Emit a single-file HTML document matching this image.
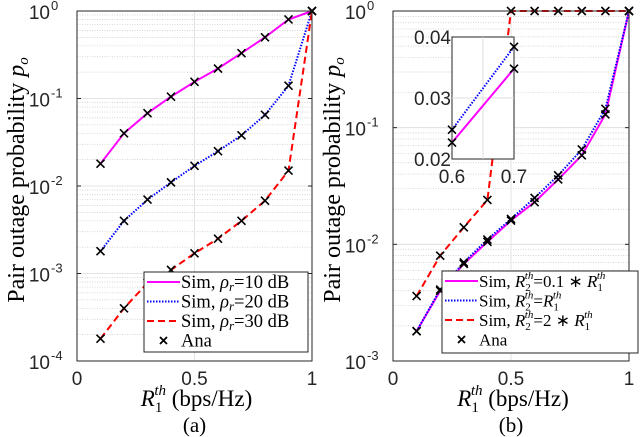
<!DOCTYPE html>
<html><head><meta charset="utf-8"><style>
body{margin:0;background:#fff}
svg{display:block}
.s,.s tspan{font-family:"Liberation Serif",serif !important}
</style></head><body>
<svg id="c" width="640" height="437" viewBox="0 0 640 437" xmlns="http://www.w3.org/2000/svg" font-family="Liberation Sans, sans-serif"></svg>
<script>
const xCats=[0.1,0.2,0.3,0.4,0.5,0.6,0.7,0.8,0.9,1.0];
const aMag=[0.018,0.04,0.068,0.105,0.155,0.22,0.33,0.5,0.8,1];
const aBlue=[0.0018,0.004,0.007,0.011,0.017,0.025,0.038,0.065,0.14,1];
const aRed=[0.00018,0.0004,0.00078,0.0011,0.0017,0.0025,0.004,0.0068,0.015,1];
const bMag=[0.0018,0.004,0.0068,0.0105,0.016,0.023,0.036,0.058,0.13,1];
const bBlue=[0.0018,0.0041,0.007,0.011,0.0165,0.025,0.039,0.065,0.145,1];
const bRed=[0.0036,0.008,0.014,0.024,1,1,1,1,1,1];
const insetX=[0.6,0.7];
const insetMag=[0.0227,0.0348];
const insetBlue=[0.0248,0.0384];
const aYExp=["0","-1","-2","-3","-4"];
const bYExp=["0","-1","-2","-3"];
const xTicks=["0","0.5","1"];

const svg=document.getElementById('c');
const NS="http://www.w3.org/2000/svg";
const SERIF="font-family:'Liberation Serif',serif";
function el(t,a,p){const e=document.createElementNS(NS,t);for(const k in a)e.setAttribute(k,a[k]);(p||svg).appendChild(e);return e;}

function panel(o){
  const g=el('g',{});
  
  
  const X=v=>o.x0+(o.x1-o.x0)*v;
  const Y=v=>o.yTop+(Math.log10(o.top)-Math.log10(v))*(o.yBot-o.yTop)/o.dec;
  for(let d=0;d<o.dec;d++){for(let m=2;m<=9;m++){const v=o.top/Math.pow(10,d+1)*m;const y=Y(v);
    el('line',{x1:o.x0,x2:o.x1,y1:y,y2:y,stroke:'#c8c8c8','stroke-width':0.7,'stroke-dasharray':'1,1.5'},g);}}
  for(let d=0;d<=o.dec;d++){const y=Y(o.top/Math.pow(10,d));
    el('line',{x1:o.x0,x2:o.x1,y1:y,y2:y,stroke:'#dcdcdc','stroke-width':0.8},g);}
  [0.5].forEach(v=>el('line',{x1:X(v),x2:X(v),y1:o.yTop,y2:o.yBot,stroke:'#dcdcdc','stroke-width':0.8},g));
  const mk=(arr,col,dash,w,nm,xs,XF,YF)=>{let d='';arr.forEach((v,i)=>{d+=(i?'L':'M')+XF(xs[i]).toFixed(1)+','+YF(v).toFixed(1);});
    const p=el('path',{d:d,fill:'none',stroke:col,'stroke-width':w,'stroke-dasharray':dash},g);
    
    };
  o.series.forEach(s=>mk(s.v,s.c,s.d,s.w,s.n,xCats,X,Y));
  o.series.forEach(s=>s.v.forEach((v,i)=>{const x=X(xCats[i]),y=Y(v);
    const m=el('path',{d:`M${x-4},${y-4}L${x+4},${y+4}M${x-4},${y+4}L${x+4},${y-4}`,stroke:'#000','stroke-width':1.6},g);
    
    }));
  el('rect',{x:o.x0,y:o.yTop,width:o.x1-o.x0,height:o.yBot-o.yTop,fill:'none',stroke:'#262626','stroke-width':1},g);
  for(let d=0;d<=o.dec;d++){const y=Y(o.top/Math.pow(10,d));
    el('line',{x1:o.x0,x2:o.x0+4,y1:y,y2:y,stroke:'#262626'},g);el('line',{x1:o.x1,x2:o.x1-4,y1:y,y2:y,stroke:'#262626'},g);
    const t=el('text',{x:o.x0-27,y:y+8,'font-size':19,'text-anchor':'end',fill:'#262626'},g);t.textContent='10';
    const e=el('text',{x:o.x0-26,y:y-1,'font-size':13,fill:'#262626'},g);e.textContent=o.exps[d];}
  xTicks.forEach(t=>{const x=X(+t);const tx=el('text',{x:x,y:o.yBot+24,'font-size':19,'text-anchor':'middle',fill:'#262626'},g);tx.textContent=t;});
  const yl=el('text',{x:0,y:0,'font-size':24,'text-anchor':'middle',class:'s',style:SERIF,transform:`translate(${o.x0-53},${(o.yTop+o.yBot)/2-6}) rotate(-90)`},g);
  
  yl.innerHTML='Pair outage probability <tspan font-style="italic">p</tspan><tspan font-size="15" dy="4" font-style="italic">o</tspan>';
  const xl=el('text',{x:(o.x0+o.x1)/2+2,y:o.yBot+45,'font-size':23,'text-anchor':'middle',class:'s',style:SERIF},g);
  
  xl.innerHTML='<tspan font-style="italic">R</tspan><tspan font-size="15" dy="6">1</tspan><tspan font-size="15" dx="-8" dy="-17" font-style="italic">th</tspan><tspan dy="11">  (bps/Hz)</tspan>';
  const cap=el('text',{x:(o.x0+o.x1)/2,y:432,'font-size':21,'text-anchor':'middle',class:'s',style:SERIF},g);cap.textContent=o.cap;
  
  const L=o.leg;const lg=el('g',{},g);
  
  el('rect',{x:L.x,y:L.y,width:L.w,height:L.h,fill:'#fff',stroke:'#262626'},lg);
  L.items.forEach((it,i)=>{const y=L.y+10+i*19.5;
    if(it.c) el('line',{x1:L.x+3,x2:L.x+36,y1:y,y2:y,stroke:it.c,'stroke-width':it.w,'stroke-dasharray':it.d},lg);
    else el('path',{d:`M${L.x+16},${y-3.5}L${L.x+23},${y+3.5}M${L.x+16},${y+3.5}L${L.x+23},${y-3.5}`,stroke:'#000','stroke-width':1.8},lg);
    const t=el('text',{x:L.x+37,y:y+6,'font-size':L.fs,class:'s',style:SERIF},lg);t.innerHTML=it.t;
    });
  return {X,Y,g};
}
const rho=v=>`Sim, <tspan font-style="italic">ρ</tspan><tspan font-size="13" dy="3" font-style="italic">r</tspan><tspan dy="-3">=${v} dB</tspan>`;
const R2=r=>`Sim, <tspan font-style="italic">R</tspan><tspan font-size="11" dy="4">2</tspan><tspan font-size="11" dx="-6" dy="-12" font-style="italic">th</tspan><tspan dy="8">=${r}</tspan><tspan font-style="italic">R</tspan><tspan font-size="11" dy="4">1</tspan><tspan font-size="11" dx="-6" dy="-12" font-style="italic">th</tspan>`;
panel({name:'panel-a',x0:77,x1:312,yTop:11,yBot:361,dec:4,top:1,exps:aYExp,cap:'(a)',
  series:[{v:aMag,c:'#ff00ff',d:'none',w:2,n:'line-10db'},{v:aBlue,c:'#0000ff',d:'1.5,1.5',w:2,n:'line-20db'},{v:aRed,c:'#ff0000',d:'7,4',w:2,n:'line-30db'}],
  leg:{x:144,y:272,w:164,h:80,fs:18.5,items:[{c:'#ff00ff',d:'none',w:2,t:rho(10)},{c:'#0000ff',d:'1.5,1.5',w:2,t:rho(20)},{c:'#ff0000',d:'7,4',w:2,t:rho(30)},{t:'Ana'}]}});
const pb=panel({name:'panel-b',x0:393,x1:629,yTop:11,yBot:361,dec:3,top:1,exps:bYExp,cap:'(b)',
  series:[{v:bMag,c:'#ff00ff',d:'none',w:2,n:'line-r2-0.1'},{v:bBlue,c:'#0000ff',d:'1.5,1.5',w:2,n:'line-r2-eq'},{v:bRed,c:'#ff0000',d:'7,4',w:2,n:'line-r2-2x'}],
  leg:{x:442,y:271,w:196,h:82,fs:17,items:[{c:'#ff00ff',d:'none',w:2,t:R2('0.1 ∗ ')},{c:'#0000ff',d:'1.5,1.5',w:2,t:R2('')},{c:'#ff0000',d:'7,4',w:2,t:R2('2 ∗ ')},{t:'Ana'}]}});
(function(){
  const ig=el('g',{});
  const x0=452,x1=514,y0=37,y1=159;
  const X=v=>x0+(v-0.6)/0.1*(x1-x0), Y=v=>y1-(v-0.02)/0.02*(y1-y0);
  el('rect',{x:x0,y:y0,width:x1-x0,height:y1-y0,fill:'#fff',stroke:'#262626'},ig);
  el('line',{x1:X(0.65),x2:X(0.65),y1:y0,y2:y1,stroke:'#dcdcdc'},ig);
  el('line',{x1:x0,x2:x1,y1:Y(0.03),y2:Y(0.03),stroke:'#dcdcdc'},ig);
  [[insetBlue,'#0000ff','1.5,1.5'],[insetMag,'#ff00ff','none']].forEach(s=>{
    el('path',{d:`M${X(insetX[0])},${Y(s[0][0])}L${X(insetX[1])},${Y(s[0][1])}`,stroke:s[1],'stroke-width':2,'stroke-dasharray':s[2],fill:'none'},ig);
    s[0].forEach((v,i)=>{const x=X(insetX[i]),y=Y(v);el('path',{d:`M${x-4},${y-4}L${x+4},${y+4}M${x-4},${y+4}L${x+4},${y-4}`,stroke:'#000','stroke-width':1.6},ig);});});
  ['0.02','0.03','0.04'].forEach(t=>{const tx=el('text',{x:x0-1,y:Y(+t)+7,'font-size':19,'text-anchor':'end',fill:'#262626'},ig);tx.textContent=t;});
  ['0.6','0.7'].forEach(t=>{const tx=el('text',{x:X(+t),y:y1+24,'font-size':19,'text-anchor':'middle',fill:'#262626'},ig);tx.textContent=t;});
})();
</script>
</body></html>
